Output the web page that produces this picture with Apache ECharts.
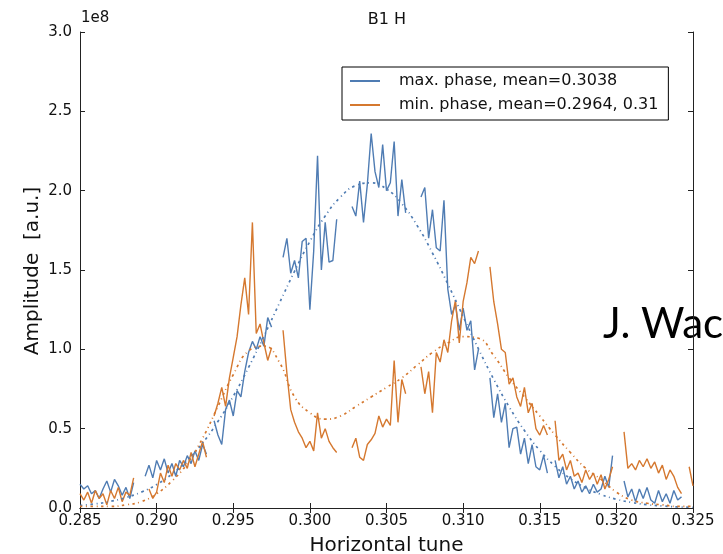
<!DOCTYPE html>
<html>
<head>
<meta charset="utf-8">
<script src="https://cdn.jsdelivr.net/npm/echarts@6/dist/echarts.min.js"></script>
<style>
html,body{margin:0;padding:0;background:#fff;}
#chart{width:723px;height:554px;}
</style>
</head>
<body>
<div id="chart"></div>
<script>
// horizontal tune of each sweep point
var tune = [
	0.285,0.28525,0.2855,0.28575,0.286,0.28625,0.2865,0.28675,0.287,0.28725,0.2875,0.28775,0.288,0.28825,0.2885,0.28875,0.289,0.28925,0.2895,0.28975,
	0.29,0.29025,0.2905,0.29075,0.291,0.29125,0.2915,0.29175,0.292,0.29225,0.2925,0.29275,0.293,0.29325,0.2935,0.29375,0.294,0.29425,0.2945,0.29475,
	0.295,0.29525,0.2955,0.29575,0.296,0.29625,0.2965,0.29675,0.297,0.29725,0.2975,0.29775,0.298,0.29825,0.2985,0.29875,0.299,0.29925,0.2995,0.29975,
	0.3,0.30025,0.3005,0.30075,0.301,0.30125,0.3015,0.30175,0.302,0.30225,0.3025,0.30275,0.303,0.30325,0.3035,0.30375,0.304,0.30425,0.3045,0.30475,
	0.305,0.30525,0.3055,0.30575,0.306,0.30625,0.3065,0.30675,0.307,0.30725,0.3075,0.30775,0.308,0.30825,0.3085,0.30875,0.309,0.30925,0.3095,0.30975,
	0.31,0.31025,0.3105,0.31075,0.311,0.31125,0.3115,0.31175,0.312,0.31225,0.3125,0.31275,0.313,0.31325,0.3135,0.31375,0.314,0.31425,0.3145,0.31475,
	0.315,0.31525,0.3155,0.31575,0.316,0.31625,0.3165,0.31675,0.317,0.31725,0.3175,0.31775,0.318,0.31825,0.3185,0.31875,0.319,0.31925,0.3195,0.31975,
	0.32,0.32025,0.3205,0.32075,0.321,0.32125,0.3215,0.32175,0.322,0.32225,0.3225,0.32275,0.323,0.32325,0.3235,0.32375,0.324,0.32425,0.3245,0.32475,
	0.325
];
// amplitude, units of 1e8 (null = no measurement)
var maxPhase = [
	0.15,0.12,0.14,0.09,0.11,0.06,0.12,0.17,0.10,0.18,0.14,0.08,0.13,0.06,0.16,null,null,0.20,0.27,0.19,
	0.30,0.24,0.31,0.22,0.28,0.20,0.30,0.26,0.33,0.28,0.36,0.30,0.40,0.34,null,0.55,0.46,0.40,0.62,0.68,
	0.58,0.74,0.70,0.86,0.98,1.05,1.00,1.08,1.02,1.20,1.14,null,null,1.58,1.70,1.48,1.56,1.45,1.68,1.70,
	1.25,1.62,2.22,1.50,1.80,1.55,1.56,1.82,null,null,null,1.90,1.84,2.06,1.80,2.04,2.36,2.12,2.02,2.29,
	2.00,2.05,2.31,1.84,2.07,1.86,null,null,null,1.96,2.02,1.70,1.88,1.64,1.62,1.94,1.38,1.22,1.28,1.12,
	1.26,1.12,1.18,0.87,1.00,null,null,0.82,0.57,0.72,0.54,0.66,0.38,0.50,0.51,0.34,0.44,0.28,0.40,0.26,
	0.24,0.33,0.22,null,0.30,0.19,0.26,0.15,0.20,0.12,0.17,0.10,0.14,0.09,0.15,0.10,0.12,0.20,0.13,0.33,
	null,null,0.17,0.07,0.12,0.04,0.12,0.06,0.13,0.05,0.03,0.11,0.04,0.09,0.03,0.11,0.05,0.07,null,null,
	null
];
var minPhase = [
	0.09,0.05,0.10,0.03,0.11,0.06,0.09,0.02,0.11,0.06,0.13,0.04,0.10,0.08,0.19,null,null,null,0.12,0.06,
	0.10,0.22,0.16,0.27,0.20,0.28,0.24,0.30,0.25,0.35,0.26,0.34,0.42,0.32,null,0.58,0.66,0.76,0.64,0.82,
	0.95,1.08,1.28,1.45,1.22,1.80,1.10,1.16,1.04,0.93,1.01,null,null,1.12,0.85,0.62,0.54,0.48,0.44,0.38,
	0.42,0.36,0.60,0.44,0.50,0.42,0.38,0.35,null,null,null,0.38,0.44,0.32,0.30,0.40,0.43,0.47,0.58,0.51,
	0.56,0.52,0.93,0.54,0.81,0.72,null,null,null,0.89,0.72,0.86,0.60,0.98,0.92,1.06,0.98,1.18,1.31,1.04,
	1.30,1.42,1.58,1.54,1.62,null,null,1.52,1.30,1.16,1.00,0.98,0.78,0.82,0.70,0.64,0.76,0.60,0.66,0.50,
	0.46,0.52,0.46,null,0.55,0.30,0.34,0.24,0.30,0.20,0.22,0.16,0.24,0.18,0.22,0.15,0.21,0.12,0.18,0.26,
	null,null,0.48,0.25,0.28,0.24,0.30,0.26,0.31,0.25,0.29,0.22,0.27,0.18,0.24,0.20,0.13,0.09,null,0.26,
	0.14
];
// fitted curves
var fitTune = [
	0.285,0.286,0.287,0.288,0.289,0.29,0.291,0.292,0.293,0.294,0.295,0.296,0.297,0.298,0.299,0.3,0.301,0.302,0.303,0.304,
	0.305,0.306,0.307,0.308,0.309,0.31,0.311,0.312,0.313,0.314,0.315,0.316,0.317,0.318,0.319,0.32,0.321,0.322,0.323,0.324,0.325
];
var maxFit = [
	0.016,0.026,0.042,0.066,0.100,0.148,0.214,0.300,0.410,0.545,0.704,0.886,1.083,1.289,1.492,1.680,1.840,1.960,2.032,2.049,
	2.010,1.918,1.780,1.607,1.412,1.207,1.003,0.811,0.638,0.488,0.363,0.263,0.185,0.127,0.085,0.055,0.035,0.021,0.013,0.007,0.004
];
var minFit = [
	0.01,0.01,0.01,0.02,0.04,0.09,0.17,0.28,0.44,0.64,0.84,0.99,1.02,0.92,0.70,0.60,0.56,0.58,0.64,0.70,
	0.76,0.82,0.90,0.98,1.04,1.08,1.07,0.96,0.82,0.70,0.58,0.46,0.35,0.25,0.18,0.10,0.05,0.03,0.02,0.01,0.01
];
var names = ['max. phase, mean=0.3038', 'min. phase, mean=0.2964, 0.31'];
var blue = '#4f7cb3';
var orange = '#d5782f';
var font = 'DejaVu Sans';

function pairs(xs, ys){
	var out = [];
	for(var i = 0;i<xs.length;i++){
		out.push([xs[i], ys[i] == null ? '-' : ys[i]]);
	}
	return out;
}

var chart = echarts.init(document.getElementById('chart'));
var frame = {show:true, lineStyle:{color:'#222', width:1}};
var tick = {show:true, inside:true, length:5, lineStyle:{color:'#222'}};
var option = {
	animation:false,
	backgroundColor:'#fff',
	title:{
		text:'B1 H', left:382, top:7, textAlign:'center',
		textStyle:{fontFamily:font, fontSize:16, fontWeight:'normal', color:'#111'}
	},
	legend:{
		data:names, orient:'vertical', left:342, top:67,
		padding:[6,10,7,8], itemGap:8, itemWidth:30, itemHeight:2, icon:'rect',
		borderColor:'#000', borderWidth:1, backgroundColor:'#fff',
		textStyle:{fontFamily:font, fontSize:16, color:'#111', padding:[0,0,0,14]}
	},
	grid:{left:80, right:30, top:32, bottom:46, containLabel:false, outerBoundsMode:'none'},
	xAxis:[{
		type:'value', min:0.285, max:0.325, interval:0.005,
		name:'Horizontal tune', nameLocation:'middle', nameGap:28,
		nameTextStyle:{fontFamily:font, fontSize:20, color:'#111'},
		axisLine:frame, axisTick:tick, splitLine:{show:false},
		axisLabel:{fontFamily:font, fontSize:15, color:'#111', margin:6,
			formatter:function(v){return v.toFixed(3);}}
	},{
		type:'value', position:'top', min:0.285, max:0.325, interval:0.005,
		axisLine:frame, axisTick:tick, splitLine:{show:false}, axisLabel:{show:false}
	}],
	yAxis:[{
		type:'value', min:0, max:3, interval:0.5,
		axisLine:frame, axisTick:tick, splitLine:{show:false},
		axisLabel:{fontFamily:font, fontSize:15, color:'#111', margin:8,
			formatter:function(v){return v.toFixed(1);}}
	},{
		type:'value', position:'right', min:0, max:3, interval:0.5,
		axisLine:frame, axisTick:tick, splitLine:{show:false}, axisLabel:{show:false}
	}],
	graphic:[
		{type:'text', left:81, top:11, style:{text:'1e8', font:'15px "DejaVu Sans"', fill:'#111'}},
		{type:'text', x:33, y:271, rotation:Math.PI/2,
			style:{text:'Amplitude  [a.u.]', font:'20px "DejaVu Sans"', fill:'#111', align:'center', verticalAlign:'middle'}},
		{type:'text', left:603, top:303, z:-1, style:{text:'J. Wac', font:'42px Lato', fill:'#000'}}
	],
	series:[
		{name:names[0], type:'line', data:pairs(tune, maxPhase), symbol:'none', connectNulls:false,
			lineStyle:{color:blue, width:1.4}, itemStyle:{color:blue}},
		{name:names[1], type:'line', data:pairs(tune, minPhase), symbol:'none', connectNulls:false,
			lineStyle:{color:orange, width:1.4}, itemStyle:{color:orange}},
		{name:'max fit', type:'line', data:pairs(fitTune, maxFit), symbol:'none', smooth:true,
			lineStyle:{color:blue, width:1.7, type:[2.5,3.5,1,3.5]}, itemStyle:{color:blue}},
		{name:'min fit', type:'line', data:pairs(fitTune, minFit), symbol:'none', smooth:true,
			lineStyle:{color:orange, width:1.7, type:[2.5,3.5,1,3.5]}, itemStyle:{color:orange}}
	]
};
chart.setOption(option);
</script>
</body>
</html>
